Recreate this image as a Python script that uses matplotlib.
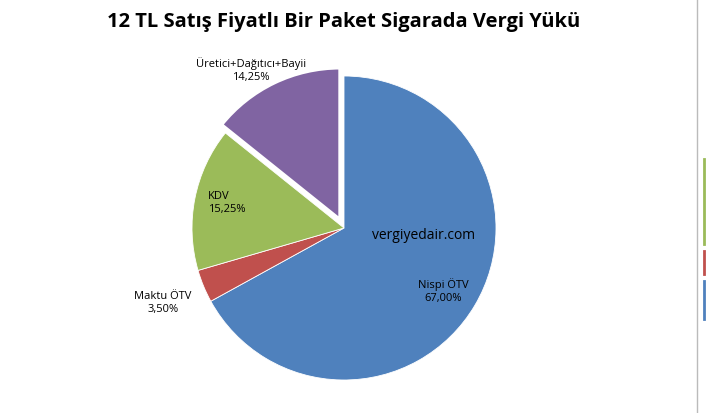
import matplotlib
matplotlib.use("Agg")
import matplotlib.pyplot as plt
from matplotlib.lines import Line2D

categories = ["Nispi ÖTV", "Maktu ÖTV", "KDV", "Üretici+Dağıtıcı+Bayii"]
values = [67.00, 3.50, 15.25, 14.25]
colors = ["#4F81BD", "#C0504D", "#9BBB59", "#8064A2"]
explode = [0, 0, 0, 0.06]

plt.rcParams['font.family'] = ['Open Sans', 'DejaVu Sans']
W, H = 706, 414
fig = plt.figure(figsize=(W/100, H/100), dpi=100)
cx, cy, R = 344, 229, 152
m = 1.1
ax = fig.add_axes([(cx - R*m)/W, (H - cy - R*m)/H, 2*R*m/W, 2*R*m/H])
wedges, _ = ax.pie(values, colors=colors, explode=explode, startangle=90, counterclock=False,
       radius=1, wedgeprops=dict(edgecolor="white", linewidth=0.6))
wedges[3].set_linewidth(2.5)
ax.set_xlim(-m, m); ax.set_ylim(-m, m); ax.set_aspect('equal'); ax.axis('off')

def d(px, py):
    return (px - cx)/R, (cy - py)/R

fmt = lambda v: f"{v:.2f}%".replace(".", ",")
pos = [(443, 291, 'center'), (163, 303, 'center'), (208, 203, 'left'), (251, 70, 'center')]
for c, v, (px, py, ha) in zip(categories, values, pos):
    x, y = d(px, py)
    ax.text(x, y, f"{c}\n{fmt(v)}", ha=ha, va='center', fontsize=8, linespacing=1.3,
            clip_on=False)
x, y = d(424, 236)
ax.text(x, y, "vergiyedair.com", ha='center', va='center', fontsize=10)

fig.text(344/W, 1 - 22/H, "12 TL Satış Fiyatlı Bir Paket Sigarada Vergi Yükü",
         ha='center', va='center', fontsize=14.5, fontweight='bold')

fig.add_artist(Line2D([697/W, 697/W], [0, 1], color="#BBBBBB", lw=1))
for y0, y1, c in [(160, 245, colors[2]), (252, 275, colors[1]), (282, 320, colors[0])]:
    fig.add_artist(Line2D([704/W, 704/W], [1 - y0/H, 1 - y1/H], color=c, lw=2))

fig.savefig("out.png", dpi=100)
